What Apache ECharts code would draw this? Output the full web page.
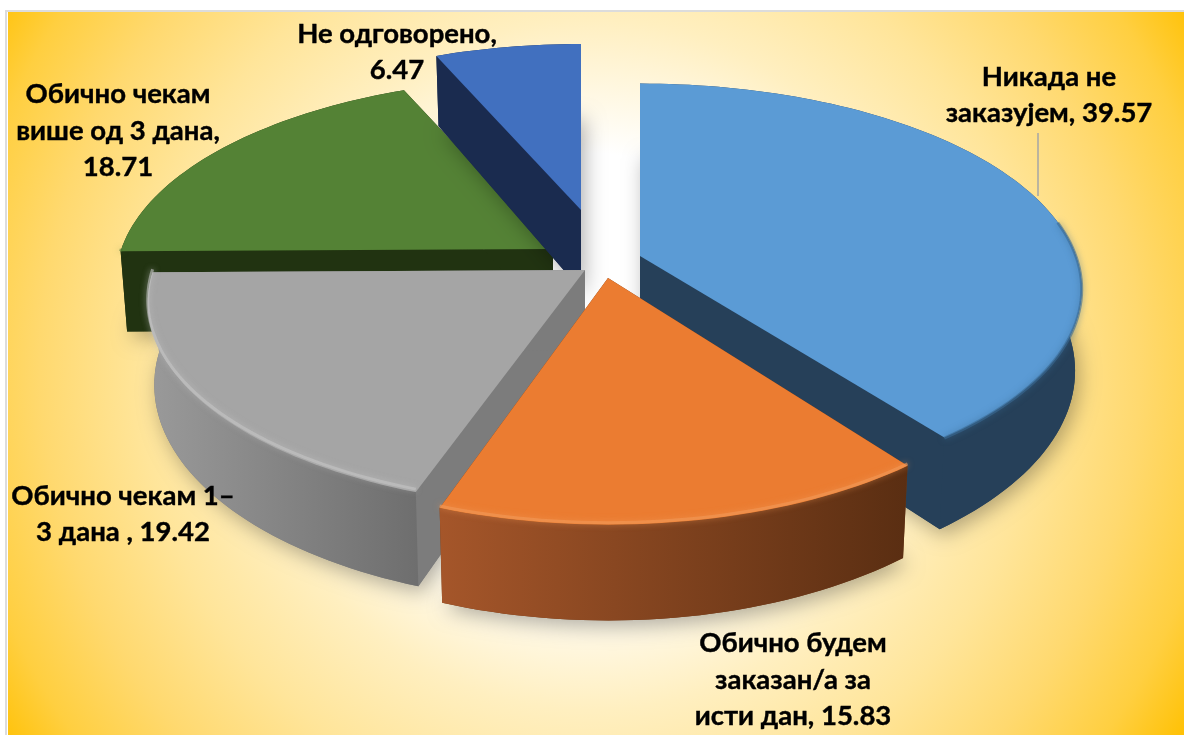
<!DOCTYPE html>
<html><head><meta charset="utf-8">
<style>html,body{margin:0;padding:0;background:#fff}#c{width:1184px;height:735px}</style>
<script src="https://cdn.jsdelivr.net/npm/echarts@6/dist/echarts.min.js"></script>
</head><body><div id="c"></div>
<script>
// ---- data ----
const categories = ['Никада не\nзаказујем', 'Обично будем\nзаказан/а за\nисти дан', 'Обично чекам 1–\n3 дана ', 'Обично чекам\nвише од 3 дана', 'Не одговорено'];
const values = [39.57, 15.83, 19.42, 18.71, 6.47];
const valueBreaks = [' ', ' ', ' ', '\n', '\n'];

// ---- look ----
const topColors = ['#5B9BD5', '#EB7C31', '#A5A5A5', '#548235', '#4170BF'];
const wallColors = ['#264059', '#6F3A17', '#7C7C7C', '#213311', '#1A2B4F'];
const rimStops = [
  ['#264059', '#264059'], ['#A5562A', '#5A2E12'], ['#9A9A9A', '#6E6E6E'], ['#213311', '#213311'], ['#1A2B4F', '#1A2B4F']
];
const bevelColors = ['#3A6A95', '#F29A58', '#C4C4C4', '#4A7430', '#4170BF'];
const bevelLift = [-0.5, 2, 3, 0, 0];
const paintOrder = [3, 4, 2, 0, 1];   // back to front
// layout of the exploded pie: apex of each slice and its radius factors
const apexX = [640, 608, 585, 553, 581];
const apexY = [256, 278, 270, 249, 210];
const radiusFactorX = [1, 0.98, 0.99, 0.99, 0.957];
const radiusFactorY = [1, 1.03, 1, 0.99, 0.957];
const RX = 436, RY = 200, PERSP = 0.16, DEPTH = 80, BOTTOM_SHRINK = 0.985;
const labelX = [1049, 793, 123, 118, 397];
const labelY = [95, 680, 514, 131, 52];
const FONT = 'Lato, "Noto Sans", sans-serif';

const total = values.reduce((a, b) => a + b, 0);
const starts = []; values.reduce((acc, v, i) => (starts[i] = acc, acc + v), 0);

function project(i, deg, z) {
  const a = deg * Math.PI / 180;
  const X = Math.sin(a) * radiusFactorX[i], Y = -Math.cos(a) * radiusFactorY[i], k = 1 / (1 - PERSP * Y);
  const shrink = z ? BOTTOM_SHRINK : 1;
  return [apexX[i] + X * RX * k * shrink, apexY[i] + Y * RY * k + z * k];
}
function arc(i, a0, a1, z) {
  const pts = [], n = Math.max(4, Math.ceil((a1 - a0) / 1.5));
  for (let s = 0; s <= n; s++) pts.push(project(i, a0 + (a1 - a0) * s / n, z));
  return pts;
}

function renderItem(params, api) {
  const i = params.dataIndex, v = api.value(0);
  const a0 = starts[i] / total * 360, a1 = a0 + v / total * 360;
  const z2 = paintOrder.indexOf(i) * 10 + 1;
  const apexT = [apexX[i], apexY[i]], apexB = [apexX[i], apexY[i] + DEPTH];
  const topArc = arc(i, a0, a1, 0), botArc = arc(i, a0, a1, DEPTH);
  const kids = [];
  const poly = (points, fill, extra) => ({ type: 'polygon', z2: z2 + (extra && extra.dz || 0), shape: { points },
    style: Object.assign({ fill }, extra && extra.style), silent: true });
  // floor of the slice carrying the soft shadow
  kids.push(poly([apexB].concat(botArc), wallColors[i], { style: { shadowBlur: 20, shadowColor: 'rgba(0,0,0,0.3)', shadowOffsetX: 4, shadowOffsetY: 6 } }));
  // straight walls
  kids.push(poly([apexT, topArc[0], botArc[0], apexB], wallColors[i], { dz: 1 }));
  kids.push(poly([apexT, topArc[topArc.length - 1], botArc[botArc.length - 1], apexB], wallColors[i], { dz: 1 }));
  // curved wall
  kids.push(poly(topArc.concat(botArc.slice().reverse()), new echarts.graphic.LinearGradient(0, 0, 1, 0, [
    { offset: 0, color: rimStops[i][0] }, { offset: 1, color: rimStops[i][1] }]), { dz: 2 }));
  // top face and the bevel along the front of its rim
  kids.push(poly([apexT].concat(topArc), topColors[i], { dz: 3 }));
  const b0 = Math.max(a0, 80), b1 = Math.min(a1, 270);
  if (b1 > b0) {
    kids.push({ type: 'polyline', z2: z2 + 4, silent: true,
      shape: { points: arc(i, b0, b1, 0).map(p => [p[0], p[1] - bevelLift[i]]) },
      style: { fill: null, stroke: bevelColors[i], lineWidth: 3, opacity: 0.6, shadowBlur: 6, shadowColor: bevelColors[i] } });
  }
  // label
  kids.push({ type: 'text', z2: 100, silent: true, x: labelX[i], y: labelY[i],
    style: { text: categories[i] + ',' + valueBreaks[i] + v.toFixed(2), fill: '#000', stroke: '#000', lineWidth: 0.4,
      font: 'bold 27.5px ' + FONT, align: 'center', verticalAlign: 'middle', lineHeight: 36.5 } });
  return { type: 'group', children: kids };
}

const chart = echarts.init(document.getElementById('c'), null, { renderer: 'canvas' });
chart.setOption({
  animation: false,
  backgroundColor: '#fff',
  graphic: [
    { type: 'rect', z: -10, silent: true, shape: { x: 6, y: 11, width: 1190, height: 740 }, style: { fill: 'none', stroke: '#DCDCDC', lineWidth: 2 } },
    { type: 'rect', z: -9, silent: true, shape: { x: 8, y: 12, width: 1176, height: 723 },
      style: { fill: new echarts.graphic.RadialGradient(590, 365, 705, [
        { offset: 0, color: '#FFFFFF' }, { offset: 0.3, color: '#FFFFFF' }, { offset: 0.49, color: '#FFEFC0' },
        { offset: 0.64, color: '#FFE59A' }, { offset: 0.78, color: '#FFD96F' }, { offset: 0.9, color: '#FFCF40' }, { offset: 1, color: '#FFC000' }], true) } },
    { type: 'line', z: 5, silent: true, shape: { x1: 1038, y1: 133, x2: 1038, y2: 196 }, style: { stroke: '#A6A6A6', lineWidth: 1.5 } }
  ],
  series: [{ type: 'custom', coordinateSystem: 'none', silent: true, clip: false,
    data: values.map((v, i) => ({ name: categories[i], value: [v] })), renderItem }]
});
</script></body></html>
